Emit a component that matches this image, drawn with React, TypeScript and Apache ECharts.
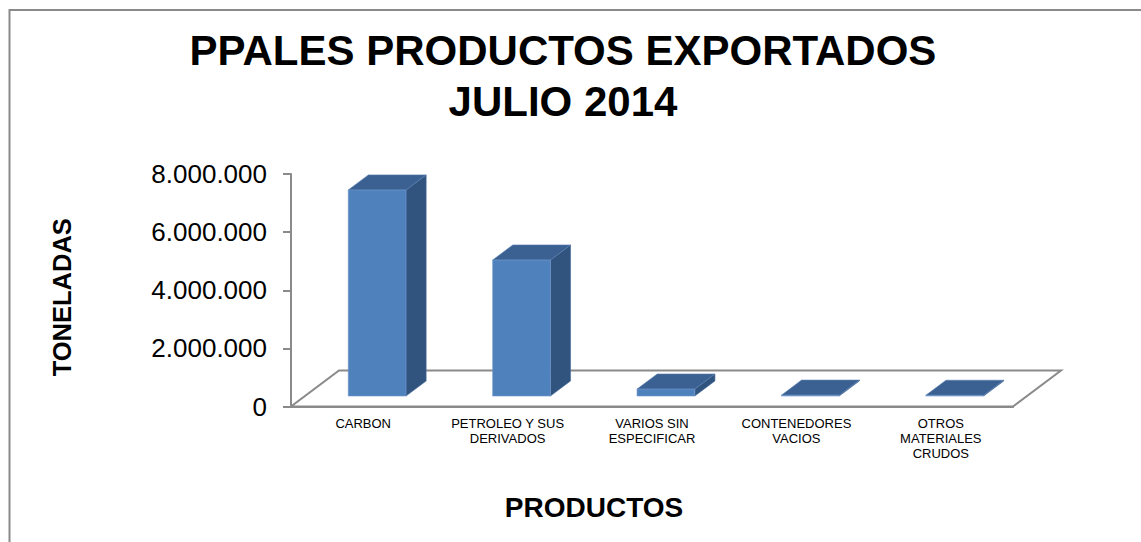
import React, { useEffect, useRef } from 'react';
import * as echarts from 'echarts';

const TITLE_LINES = ['PPALES PRODUCTOS EXPORTADOS', 'JULIO 2014'];
const CATEGORIES = [
  'CARBON',
  'PETROLEO Y SUS\nDERIVADOS',
  'VARIOS SIN\nESPECIFICAR',
  'CONTENEDORES\nVACIOS',
  'OTROS\nMATERIALES\nCRUDOS',
];
const TONELADAS = [7090000, 4680000, 240000, 30000, 25000];
const Y_MIN = 0;
const Y_MAX = 8000000;
const Y_INTERVAL = 2000000;
const Y_NAME = 'TONELADAS';
const X_NAME = 'PRODUCTOS';

const FONT = 'Liberation Sans, Arial, sans-serif';
const GRAY = '#8a8a8a';
const FRONT = '#4F81BD';
const SIDE = '#31547F';
const TOP = '#3B6192';

// oblique floor depth
const DEPTH_X = 48;
const DEPTH_Y = -36;

const fmt = (v: number) => String(v).replace(/\B(?=(\d{3})+(?!\d))/g, '.');

export default function App() {
  const ref = useRef<HTMLDivElement>(null);
  useEffect(() => {
    if (!ref.current) return;
    const chart = echarts.init(ref.current, undefined, { renderer: 'svg' });
    chart.setOption({
      animation: false,
      backgroundColor: '#ffffff',
      title: {
        text: TITLE_LINES.join('\n'),
        left: 558,
        top: 20,
        textAlign: 'center',
        textStyle: {
          fontFamily: FONT,
          fontWeight: 'bold',
          fontSize: 42,
          lineHeight: 51,
          color: '#000',
        },
      },
      graphic: [
        {
          type: 'rect',
          shape: { x: 9.5, y: 10, width: 1300, height: 700 },
          style: { fill: 'none', stroke: GRAY, lineWidth: 2 },
          silent: true,
          z: -10,
        },
      ],
      grid: {
        left: 291,
        top: 174,
        right: 128,
        bottom: 135.5,
        containLabel: false,
        outerBoundsMode: 'none',
      },
      xAxis: {
        type: 'category',
        data: CATEGORIES,
        name: X_NAME,
        nameLocation: 'middle',
        nameGap: 86,
        nameTextStyle: {
          fontFamily: FONT,
          fontWeight: 'bold',
          fontSize: 28,
          lineHeight: 30,
          color: '#000',
          padding: [0, 116, 0, 0],
        },
        axisLine: { show: true, lineStyle: { color: GRAY, width: 2 } },
        axisTick: { show: false },
        axisLabel: {
          interval: 0,
          fontFamily: FONT,
          fontSize: 13,
          lineHeight: 15,
          margin: 9,
          color: '#000',
        },
        splitLine: { show: false },
      },
      yAxis: {
        type: 'value',
        min: Y_MIN,
        max: Y_MAX,
        interval: Y_INTERVAL,
        name: Y_NAME,
        nameLocation: 'middle',
        nameRotate: 90,
        nameGap: 216,
        nameTextStyle: {
          fontFamily: FONT,
          fontWeight: 'bold',
          fontSize: 25.5,
          lineHeight: 26,
          color: '#000',
          padding: [0, 14, 0, 0],
        },
        axisLine: { show: true, lineStyle: { color: GRAY, width: 2 } },
        axisTick: { show: true, length: 8, lineStyle: { color: GRAY, width: 2 } },
        axisLabel: {
          fontFamily: FONT,
          fontSize: 26,
          margin: 24,
          color: '#000',
          formatter: (v: number) => fmt(v),
        },
        splitLine: { show: false },
      },
      series: [
        {
          type: 'custom',
          name: 'floor',
          clip: false,
          silent: true,
          z: 1,
          data: [[0, 0]],
          renderItem: (params: any) => {
            const cs = params.coordSys;
            const yb = cs.y + cs.height;
            return {
              type: 'polygon',
              shape: {
                points: [
                  [cs.x, yb],
                  [cs.x + cs.width, yb],
                  [cs.x + cs.width + DEPTH_X, yb + DEPTH_Y],
                  [cs.x + DEPTH_X, yb + DEPTH_Y],
                ],
              },
              style: { fill: 'none', stroke: GRAY, lineWidth: 2 },
            };
          },
        },
        {
          type: 'custom',
          name: 'TONELADAS',
          clip: false,
          z: 2,
          data: TONELADAS.map((v, i) => [i, v]),
          renderItem: (params: any, api: any) => {
            const i = api.value(0);
            const v = api.value(1);
            const base = api.coord([i, 0]);
            const top = api.coord([i, v]);
            const band = api.size([1, 0])[0];
            const w = band * 0.4;
            const offX = DEPTH_X * 0.29;
            const offY = DEPTH_Y * 0.29;
            const dX = DEPTH_X * 0.42;
            const dY = DEPTH_Y * 0.42;
            const x0 = base[0] - w / 2 + offX;
            const yb = base[1] + offY;
            const yt = Math.min(top[1] + offY, yb - 0.6);
            return {
              type: 'group',
              children: [
                {
                  type: 'polygon',
                  shape: {
                    points: [
                      [x0 + w, yb],
                      [x0 + w + dX, yb + dY],
                      [x0 + w + dX, yt + dY],
                      [x0 + w, yt],
                    ],
                  },
                  style: { fill: SIDE, stroke: '#4a6e9c', lineWidth: 0.6 },
                },
                {
                  type: 'polygon',
                  shape: {
                    points: [
                      [x0, yt],
                      [x0 + w, yt],
                      [x0 + w + dX, yt + dY],
                      [x0 + dX, yt + dY],
                    ],
                  },
                  style: { fill: TOP, stroke: '#5a7fb0', lineWidth: 0.6 },
                },
                {
                  type: 'rect',
                  shape: { x: x0, y: yt, width: w, height: yb - yt },
                  style: { fill: FRONT, stroke: '#7399cc', lineWidth: 0.6 },
                },
              ],
            };
          },
        },
      ],
    });
    return () => chart.dispose();
  }, []);
  return (
    <div
      ref={ref}
      style={{ position: 'fixed', left: 0, top: 0, width: 1141, height: 542, background: '#fff' }}
    />
  );
}
